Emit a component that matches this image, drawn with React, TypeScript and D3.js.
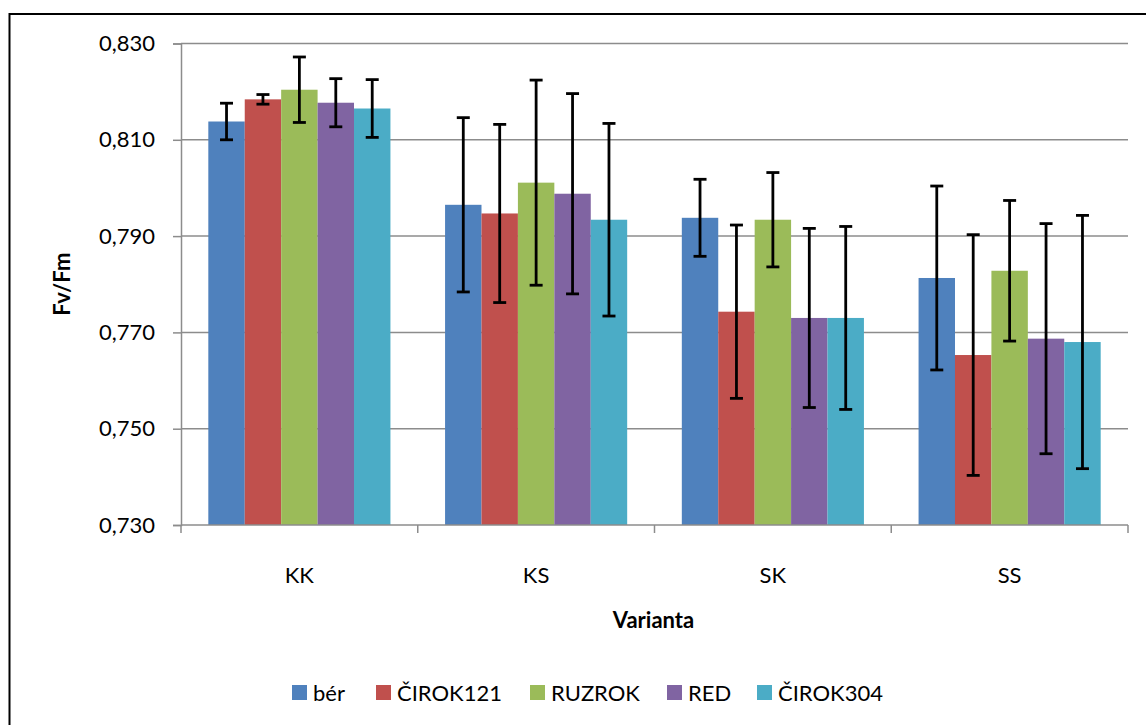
import React, { useEffect, useRef } from 'react';
import * as d3 from 'd3';

const categories = ['KK', 'KS', 'SK', 'SS'];
const seriesNames = ['bér', 'ČIROK121', 'RUZROK', 'RED', 'ČIROK304'];
const colors = ['#4F81BD', '#C0504D', '#9BBB59', '#8064A2', '#4BACC6'];

// mean Fv/Fm per series, in order KK, KS, SK, SS
const ber = [0.8138, 0.7965, 0.7938, 0.7813];
const cirok121 = [0.8184, 0.7947, 0.7743, 0.7653];
const ruzrok = [0.8204, 0.8011, 0.7934, 0.7828];
const red = [0.8177, 0.7988, 0.7730, 0.7687];
const cirok304 = [0.8165, 0.7934, 0.7730, 0.7680];

// standard deviation (error bars)
const berErr = [0.0038, 0.0181, 0.0080, 0.0191];
const cirok121Err = [0.0010, 0.0185, 0.0180, 0.0250];
const ruzrokErr = [0.0068, 0.0213, 0.0098, 0.0146];
const redErr = [0.0050, 0.0208, 0.0186, 0.0239];
const cirok304Err = [0.0060, 0.0200, 0.0190, 0.0263];

const yTicks = [0.73, 0.75, 0.77, 0.79, 0.81, 0.83];

const values = [ber, cirok121, ruzrok, red, cirok304];
const errors = [berErr, cirok121Err, ruzrokErr, redErr, cirok304Err];

const width = 1146;
const height = 725;
const font = 'Lato, "Open Sans", sans-serif';
const fontSize = 22;

export default function App() {
  const ref = useRef<SVGSVGElement>(null);

  useEffect(() => {
    const svg = d3.select(ref.current);
    svg.selectAll('*').remove();

    const left = 181;
    const right = 1128;
    const top = 43.5;
    const bottom = 525;

    // outer chart border (runs off the page at right and bottom)
    svg.append('rect')
      .attr('x', 9.5).attr('y', 14)
      .attr('width', 1160).attr('height', 740)
      .attr('fill', '#fff').attr('stroke', '#000').attr('stroke-width', 2);

    const y = d3.scaleLinear().domain([0.73, 0.83]).range([bottom, top]);
    const x = d3.scaleBand().domain(categories).range([left, right]).padding(0);
    const bw = x.bandwidth();
    const gap = (bw * 1.5) / 6.5;
    const xs = d3.scaleBand().domain(seriesNames).range([gap / 2, bw - gap / 2]).padding(0);

    // gridlines
    svg.append('g')
      .selectAll('line')
      .data(yTicks.slice(1))
      .join('line')
      .attr('x1', left).attr('x2', right)
      .attr('y1', d => y(d)).attr('y2', d => y(d))
      .attr('stroke', '#8c8c8c').attr('stroke-width', 1.5);

    // bars
    seriesNames.forEach((s, i) => {
      const g = svg.append('g');
      g.selectAll('rect')
        .data(categories)
        .join('rect')
        .attr('x', c => (x(c) as number) + (xs(s) as number))
        .attr('y', (c, j) => y(values[i][j]))
        .attr('width', xs.bandwidth())
        .attr('height', (c, j) => bottom - y(values[i][j]))
        .attr('fill', colors[i]);
    });

    // error bars
    seriesNames.forEach((s, i) => {
      const g = svg.append('g').attr('stroke', '#000').attr('stroke-width', 2.8);
      categories.forEach((c, j) => {
        const cx = (x(c) as number) + (xs(s) as number) + xs.bandwidth() / 2;
        const hi = y(values[i][j] + errors[i][j]);
        const lo = y(values[i][j] - errors[i][j]);
        g.append('line').attr('x1', cx).attr('x2', cx).attr('y1', hi).attr('y2', lo);
        g.append('line').attr('x1', cx - 6.5).attr('x2', cx + 6.5).attr('y1', hi).attr('y2', hi);
        g.append('line').attr('x1', cx - 6.5).attr('x2', cx + 6.5).attr('y1', lo).attr('y2', lo);
      });
    });

    // y axis
    const yAxis = d3.axisLeft(y)
      .tickValues(yTicks)
      .tickSize(8)
      .tickPadding(18)
      .tickFormat(d => d3.format('.3f')(d as number).replace('.', ','));
    const ya = svg.append('g').attr('transform', `translate(${left},0)`).call(yAxis);
    ya.select('.domain').attr('stroke', '#8c8c8c').attr('stroke-width', 1.5);
    ya.selectAll('.tick line').attr('stroke', '#8c8c8c').attr('stroke-width', 1.5);
    ya.selectAll('.tick text')
      .attr('font-family', font).attr('font-size', fontSize).attr('fill', '#000');

    // x axis
    const xa = svg.append('g').attr('transform', `translate(0,${bottom})`);
    xa.append('line')
      .attr('x1', left).attr('x2', right)
      .attr('stroke', '#8c8c8c').attr('stroke-width', 1.5);
    xa.selectAll('line.tk')
      .data([...categories.map(c => x(c) as number), right])
      .join('line')
      .attr('class', 'tk')
      .attr('x1', d => d).attr('x2', d => d)
      .attr('y1', 0).attr('y2', 8)
      .attr('stroke', '#8c8c8c').attr('stroke-width', 1.5);
    xa.selectAll('text')
      .data(categories)
      .join('text')
      .attr('x', c => (x(c) as number) + bw / 2)
      .attr('y', 58)
      .attr('text-anchor', 'middle')
      .attr('font-family', font).attr('font-size', fontSize)
      .text(c => c);

    // axis titles
    svg.append('text')
      .attr('transform', `translate(70,${(top + bottom) / 2}) rotate(-90)`)
      .attr('text-anchor', 'middle')
      .attr('font-family', font).attr('font-size', fontSize).attr('font-weight', 'bold')
      .text('Fv/Fm');
    svg.append('text')
      .attr('x', (left + right) / 2 - 1).attr('y', 628)
      .attr('text-anchor', 'middle')
      .attr('font-family', font).attr('font-size', fontSize).attr('font-weight', 'bold')
      .text('Varianta');

    // legend
    const legendX = [292, 376, 530, 667, 757];
    const lg = svg.append('g');
    seriesNames.forEach((s, i) => {
      lg.append('rect')
        .attr('x', legendX[i]).attr('y', 685)
        .attr('width', 15).attr('height', 15)
        .attr('fill', colors[i]);
      lg.append('text')
        .attr('x', legendX[i] + 21).attr('y', 701)
        .attr('font-family', font).attr('font-size', fontSize)
        .text(s);
    });
  }, []);

  return (
    <div style={{ position: 'fixed', left: 0, top: 0, width, height, background: '#fff' }}>
      <svg ref={ref} width={width} height={height} />
    </div>
  );
}
